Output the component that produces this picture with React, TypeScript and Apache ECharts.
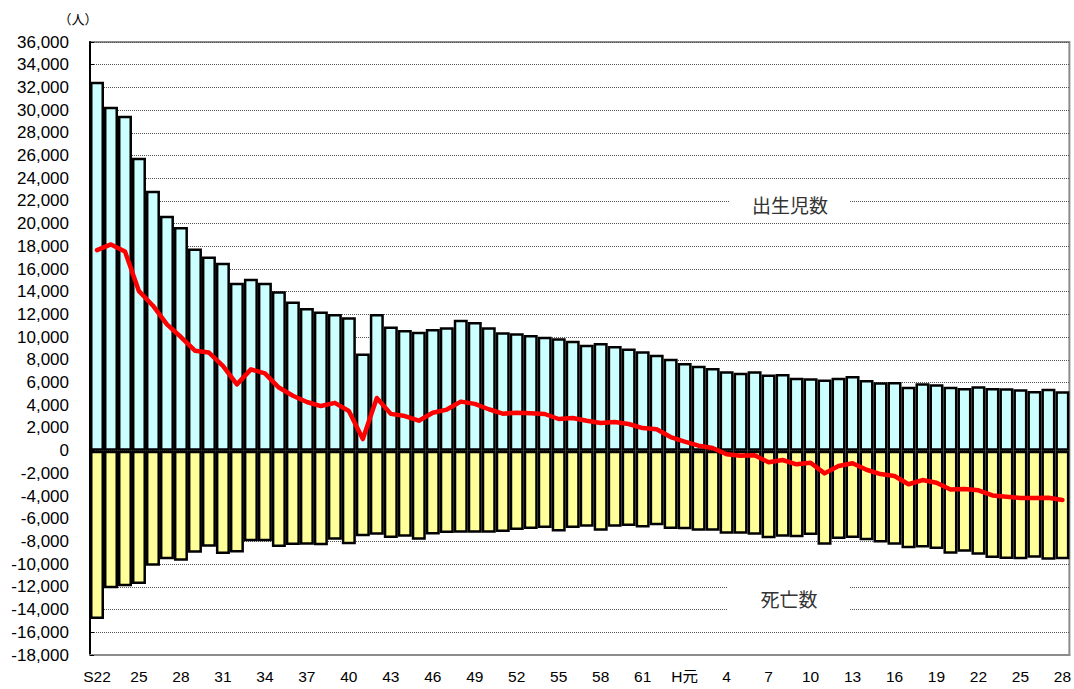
import React, { useEffect, useRef } from "react";
import * as echarts from "echarts";

const categories: string[] = [
  "S22", "S23", "S24", "S25", "S26", "S27", "S28", "S29", "S30", "S31",
  "S32", "S33", "S34", "S35", "S36", "S37", "S38", "S39", "S40", "S41",
  "S42", "S43", "S44", "S45", "S46", "S47", "S48", "S49", "S50", "S51",
  "S52", "S53", "S54", "S55", "S56", "S57", "S58", "S59", "S60", "S61",
  "S62", "S63", "H元", "H2", "H3", "H4", "H5", "H6", "H7", "H8",
  "H9", "H10", "H11", "H12", "H13", "H14", "H15", "H16", "H17", "H18",
  "H19", "H20", "H21", "H22", "H23", "H24", "H25", "H26", "H27", "H28",
];

const births: number[] = [
  32500, 30300, 29500, 25800, 22900, 20700, 19700, 17800, 17100, 16560,
  14800, 15150, 14800, 14050, 13150, 12570, 12270, 12050, 11750, 8570,
  12040, 10930, 10630, 10480, 10720, 10870, 11540, 11340, 10870, 10430,
  10340, 10190, 10040, 9900, 9690, 9340, 9490, 9220, 8990, 8750,
  8460, 8100, 7730, 7490, 7280, 6990, 6870, 6990, 6700, 6760,
  6430, 6370, 6280, 6430, 6580, 6220, 6020, 6050, 5640, 5930,
  5840, 5640, 5520, 5670, 5520, 5490, 5400, 5260, 5460, 5230,
];

const deaths: number[] = [
  -14830, -12130, -11950, -11750, -10130, -9570, -9690, -8990, -8460, -9100,
  -8960, -7990, -7990, -8490, -8310, -8280, -8340, -7840, -8250, -7550,
  -7400, -7690, -7580, -7840, -7380, -7250, -7220, -7220, -7220, -7170,
  -6990, -6900, -6810, -7110, -6810, -6700, -7050, -6700, -6640, -6760,
  -6580, -6900, -6930, -7050, -7050, -7310, -7310, -7400, -7720, -7580,
  -7630, -7430, -8280, -7780, -7690, -7900, -8080, -8280, -8600, -8520,
  -8660, -9070, -8900, -9160, -9460, -9540, -9570, -9430, -9600, -9570,
];

const naturalIncrease: number[] = [
  17670, 18170, 17550, 14050, 12770, 11130, 10010, 8810, 8640, 7460,
  5840, 7160, 6810, 5560, 4840, 4290, 3930, 4210, 3500, 1020,
  4640, 3240, 3050, 2640, 3340, 3620, 4320, 4120, 3650, 3260,
  3350, 3290, 3230, 2790, 2880, 2640, 2440, 2520, 2350, 1990,
  1880, 1200, 800, 440, 230, -320, -440, -410, -1020, -820,
  -1200, -1060, -2000, -1350, -1110, -1680, -2060, -2230, -2960, -2590,
  -2820, -3430, -3380, -3490, -3940, -4050, -4170, -4170, -4140, -4340,
];

const unitLabel = "（人）";
const birthLabel = "出生児数";
const deathLabel = "死亡数";

const FONT = "'Liberation Sans', Arial, 'Noto Sans CJK JP', sans-serif";
const CJK = "'Noto Sans CJK JP', sans-serif";

function fmt(v: number): string {
  const s = Math.abs(v).toString().replace(/\B(?=(\d{3})+(?!\d))/g, ",");
  return v < 0 ? "-" + s : s;
}

export default function App() {
  const ref = useRef<HTMLDivElement>(null);

  useEffect(() => {
    if (!ref.current) return;
    const chart = echarts.init(ref.current, undefined, { renderer: "svg" });
    chart.setOption({
      animation: false,
      backgroundColor: "#ffffff",
      grid: {
        left: 90,
        right: 2,
        top: 42,
        bottom: 34,
        show: true,
        borderColor: "#8c8c8c",
        borderWidth: 2,
        backgroundColor: "transparent",
      },
      xAxis: {
        type: "category",
        data: categories,
        boundaryGap: true,
        axisLine: { onZero: false, lineStyle: { color: "#8c8c8c", width: 2 } },
        axisTick: { show: false },
        axisLabel: {
          interval: 2,
          margin: 14,
          fontSize: 15.5,
          color: "#000",
          fontFamily: FONT,
          formatter: (v: string, i: number) =>
            i === 0 || v === "H元" ? v : v.slice(1),
        },
        splitLine: { show: false },
      },
      yAxis: {
        type: "value",
        min: -18000,
        max: 36000,
        interval: 2000,
        axisLine: { show: true, lineStyle: { color: "#000", width: 2 } },
        axisTick: { show: true, inside: true, length: 4, lineStyle: { color: "#000" } },
        axisLabel: {
          margin: 21,
          fontSize: 17,
          color: "#000",
          fontFamily: FONT,
          formatter: (v: number) => fmt(v),
        },
        splitLine: { lineStyle: { type: "dotted", color: "#555", width: 1 } },
      },
      series: [
        {
          name: birthLabel,
          type: "bar",
          data: births,
          stack: "pop",
          barCategoryGap: "0%",
          itemStyle: { color: "#CCFFFF", borderColor: "#000", borderWidth: 2.5 },
        },
        {
          name: deathLabel,
          type: "bar",
          data: deaths,
          stack: "pop",
          barCategoryGap: "0%",
          itemStyle: { color: "#FFFF99", borderColor: "#000", borderWidth: 2.5 },
        },
        {
          name: "自然増減",
          type: "line",
          data: naturalIncrease,
          showSymbol: false,
          symbol: "none",
          z: 5,
          lineStyle: { color: "#FF0000", width: 4.5, join: "round", cap: "round" },
        },
      ],
      graphic: [
        {
          type: "text",
          z: 100,
          style: {
            text: unitLabel,
            x: 78,
            y: 18,
            align: "center",
            verticalAlign: "middle",
            fill: "#000",
            font: "13px " + CJK,
          },
        },
        {
          type: "rect",
          z: 90,
          shape: { x: 730, y: 192, width: 120, height: 20 },
          style: { fill: "#ffffff" },
        },
        {
          type: "text",
          z: 100,
          style: {
            text: birthLabel,
            x: 790,
            y: 204,
            align: "center",
            verticalAlign: "middle",
            fill: "#333",
            font: "19px " + CJK,
          },
        },
        {
          type: "rect",
          z: 90,
          shape: { x: 727, y: 574, width: 122, height: 46 },
          style: { fill: "#ffffff" },
        },
        {
          type: "text",
          z: 100,
          style: {
            text: deathLabel,
            x: 789,
            y: 598,
            align: "center",
            verticalAlign: "middle",
            fill: "#333",
            font: "19px " + CJK,
          },
        },
      ],
    });
    return () => chart.dispose();
  }, []);

  return (
    <div
      ref={ref}
      style={{ position: "absolute", left: 0, top: 0, width: 1074, height: 689 }}
    />
  );
}
